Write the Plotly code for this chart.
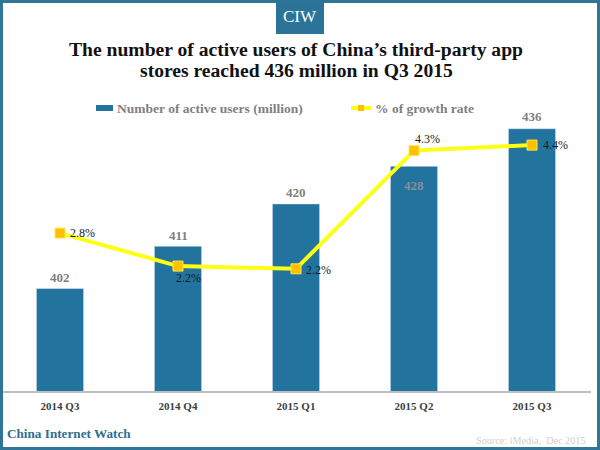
import plotly.graph_objects as go

# Constants
W, H = 600, 450
SERIF = 'Liberation Serif, serif'
BLUE = '#22739E'
FRAME = '#2E7596'
YELLOW = '#FFFF14'
GOLD = '#FFC000'

QUARTERS = ['2014 Q3', '2014 Q4', '2015 Q1', '2015 Q2', '2015 Q3']
ACTIVE_USERS = [402, 411, 420, 428, 436]
USER_LABEL_COLORS = ['#7F7F7F', '#7F7F7F', '#7F7F7F', '#8A8F94', '#7F7F7F']
# the 428 label sits inside its bar, the others above
USER_LABEL_SHIFT = [11, 11, 11, -19, 12]
GROWTH = [2.8, 2.2, 2.15, 4.3, 4.4]
GROWTH_LABELS = ['2.8%', '2.2%', '2.2%', '4.3%', '4.4%']
# label offset from its marker, in pixels
GROWTH_SHIFT = [(22, 0), (10, -12), (22, -1), (13, 12), (23, 0)]


def px_x(x):
    return x / W


def px_y(y):
    return 1 - y / H


def add_text(fig, text, x, y, size, color, bold=False, anchor='center'):
    if bold:
        text = f'<b>{text}</b>'
    fig.add_annotation(
        x=px_x(x), y=px_y(y),
        xref='paper', yref='paper',
        text=text,
        showarrow=False,
        xanchor=anchor,
        yanchor='middle',
        font=dict(size=size, color=color, family=SERIF)
    )


def add_box(fig, x0, x1, y0, y1, color):
    fig.add_shape(type='rect', xref='paper', yref='paper',
                  x0=px_x(x0), x1=px_x(x1), y0=px_y(y1), y1=px_y(y0),
                  line=dict(width=0), fillcolor=color)


fig = go.Figure()

fig.add_trace(go.Bar(
    name='Number of active users (million)',
    x=QUARTERS,
    y=ACTIVE_USERS,
    marker_color=BLUE
))

fig.add_trace(go.Scatter(
    name='% of growth rate',
    x=QUARTERS,
    y=GROWTH,
    yaxis='y2',
    mode='lines+markers',
    line=dict(color=YELLOW, width=4),
    marker=dict(symbol='square', size=10, color=GOLD, line=dict(color='#FFE84D', width=1))
))

fig.update_layout(
    width=W,
    height=H,
    margin=dict(l=0, r=0, t=0, b=0),
    paper_bgcolor='white',
    plot_bgcolor='white',
    bargap=0.6,
    showlegend=False,
    xaxis=dict(
        domain=[px_x(1), px_x(591)],
        showgrid=False,
        ticks='',
        showline=False,
        ticklabelstandoff=6,
        tickfont=dict(size=11, color='#404040', family=SERIF, weight='bold')
    ),
    yaxis=dict(domain=[px_y(392), px_y(100)], range=[380, 442.1], visible=False),
    yaxis2=dict(domain=[px_y(392), px_y(100)], range=[-0.09, 5.22], overlaying='y', visible=False)
)

for quarter, value, color, shift in zip(QUARTERS, ACTIVE_USERS, USER_LABEL_COLORS, USER_LABEL_SHIFT):
    fig.add_annotation(
        x=quarter, y=value,
        text=f'<b>{value}</b>',
        showarrow=False,
        yshift=shift,
        font=dict(size=13, color=color, family=SERIF)
    )

# growth labels sit next to the markers
for quarter, value, label, shift in zip(QUARTERS, GROWTH, GROWTH_LABELS, GROWTH_SHIFT):
    fig.add_annotation(
        x=quarter, y=value,
        yref='y2',
        text=label,
        showarrow=False,
        xshift=shift[0],
        yshift=shift[1],
        font=dict(size=12, color='#1A1A1A', family=SERIF)
    )

# outer frame, CIW badge and axis line
fig.add_shape(type='rect', xref='paper', yref='paper',
              x0=px_x(1.5), x1=px_x(598.5), y0=px_y(448.5), y1=px_y(1.5),
              line=dict(color=FRAME, width=3), layer='below')
add_box(fig, 276, 324, 1, 34, '#2B7498')
fig.add_shape(type='line', xref='paper', yref='paper',
              x0=px_x(3), x1=px_x(591), y0=px_y(392), y1=px_y(392),
              line=dict(color='#BFBFBF', width=2))

# legend, drawn by hand for the flat swatches of the original
add_box(fig, 96, 113, 105, 111, BLUE)
add_box(fig, 351, 371, 106, 110, YELLOW)
add_box(fig, 358, 364, 105, 111, GOLD)
add_text(fig, '<b>Number of active users (million)</b>', 115, 108, 13.5, '#7F7F7F', anchor='left')
add_text(fig, '<b>% of growth rate</b>', 373, 108, 13.5, '#7F7F7F', anchor='left')

add_text(fig, 'CIW', 300, 16, 17, 'white')
add_text(fig, 'The number of active users of China’s third-party app', 296, 49, 19.6, '#111111', bold=True)
add_text(fig, 'stores reached 436 million in Q3 2015', 296, 70, 19.6, '#111111', bold=True)
add_text(fig, 'China Internet Watch', 5, 433, 13.2, '#2E6E8E', bold=True, anchor='left')
add_text(fig, 'Source: iMedia,  Dec 2015', 588, 440, 10.2, '#CFCFCF', anchor='right')

# the page body margin would push the chart off its frame
fig.write_html("out.html", config={'displayModeBar': False},
               post_script="document.body.style.margin = '0';")
